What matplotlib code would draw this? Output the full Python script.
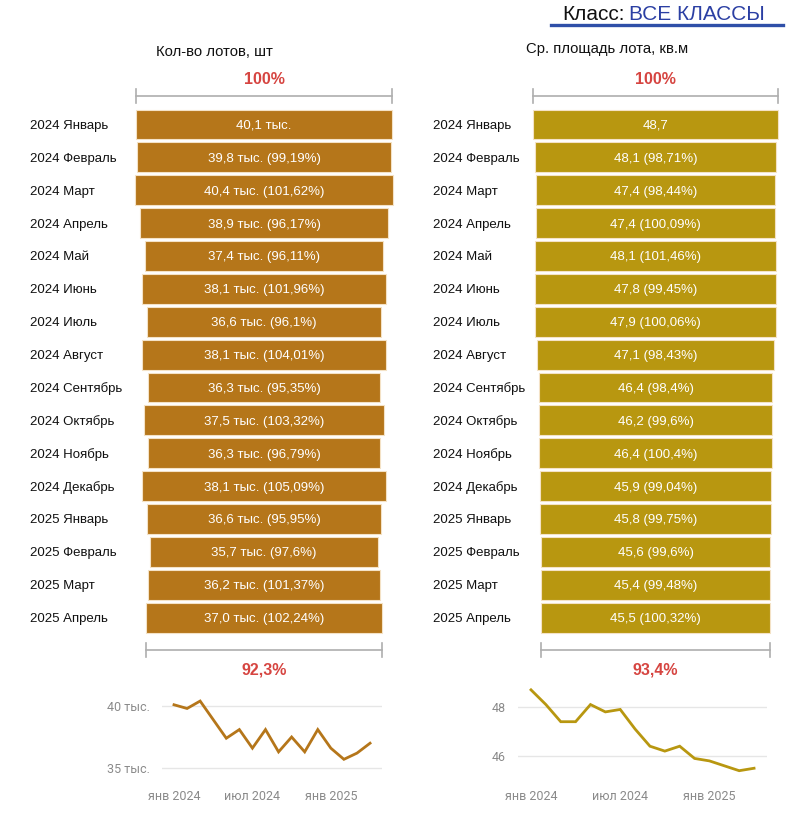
import matplotlib
matplotlib.use("Agg")
import matplotlib.pyplot as plt
from matplotlib.transforms import blended_transform_factory as btf

# ---------------- data ----------------
months = ["2024 Январь", "2024 Февраль", "2024 Март", "2024 Апрель", "2024 Май",
          "2024 Июнь", "2024 Июль", "2024 Август", "2024 Сентябрь", "2024 Октябрь",
          "2024 Ноябрь", "2024 Декабрь", "2025 Январь", "2025 Февраль", "2025 Март",
          "2025 Апрель"]
lots = [40.1, 39.8, 40.4, 38.9, 37.4, 38.1, 36.6, 38.1, 36.3, 37.5, 36.3, 38.1,
        36.6, 35.7, 36.2, 37.0]
lots_pct = [None, "99,19", "101,62", "96,17", "96,11", "101,96", "96,1", "104,01",
            "95,35", "103,32", "96,79", "105,09", "95,95", "97,6", "101,37", "102,24"]
area = [48.7, 48.1, 47.4, 47.4, 48.1, 47.8, 47.9, 47.1, 46.4, 46.2, 46.4, 45.9,
        45.8, 45.6, 45.4, 45.5]
area_pct = [None, "98,71", "98,44", "100,09", "101,46", "99,45", "100,06", "98,43",
            "98,4", "99,6", "100,4", "99,04", "99,75", "99,6", "99,48", "100,32"]
xtick_pos = [0, 6, 12]
xtick_labels = ["янв 2024", "июл 2024", "янв 2025"]
lots_yticks = [35, 40]
lots_ytick_labels = ["35 тыс.", "40 тыс."]
area_yticks = [46, 48]
area_ytick_labels = ["46", "48"]

# ---------------- style ----------------
W, H = 800, 821
MAIN = ["Liberation Sans", "DejaVu Sans"]
MINI = ["Roboto", "DejaVu Sans"]
C_LOTS = "#B5761A"
C_AREA = "#B89710"
RED = "#D64541"
GRAY_BR = "#AEAEAE"
TICK_C = "#8A8A8A"

fig = plt.figure(figsize=(W / 100, H / 100), dpi=100)
fig.patch.set_facecolor("white")


def fx(px):
    return px / W


def fy(py):
    return 1 - py / H


ROW0, STEP = 124.5, 32.87
TOP_PX, BOT_PX = 55, 690


def fmt(v):
    return f"{v:.1f}".replace(".", ",")


def bar_panel(cx, ppu, values, pct, color, suffix, label_x):
    half_px = 165
    ax = fig.add_axes([fx(cx - half_px), fy(BOT_PX), 2 * half_px / W, (BOT_PX - TOP_PX) / H])
    L = half_px / ppu
    ax.set_xlim(-L, L)
    ax.set_ylim((BOT_PX - ROW0) / STEP, (TOP_PX - ROW0) / STEP)
    ax.axis("off")
    n = len(values)
    ys = list(range(n))
    ax.barh(ys, values, left=[-v / 2 for v in values], height=0.91, color=color,
            edgecolor="#F4E2C6", linewidth=0.8)
    tr = btf(fig.transFigure, ax.transData)
    for i, (m, v, p) in enumerate(zip(months, values, pct)):
        txt = fmt(v) + suffix + ("" if p is None else f" ({p}%)")
        ax.text(0, i, txt, ha="center", va="center_baseline", color="white",
                fontsize=9.5, family=MAIN)
        ax.text(fx(label_x), i, m, transform=tr, ha="left", va="center_baseline",
                color="#111111", fontsize=9.5, family=MAIN)
    # brackets
    tick = 0.21
    for v, yb in ((values[0], (96 - ROW0) / STEP), (values[-1], (650 - ROW0) / STEP)):
        ax.plot([-v / 2, v / 2], [yb, yb], color=GRAY_BR, lw=1.2, clip_on=False)
        for xe in (-v / 2, v / 2):
            ax.plot([xe, xe], [yb - tick, yb + tick], color=GRAY_BR, lw=1.2, clip_on=False)
    ax.text(0, (78 - ROW0) / STEP, "100%", ha="center", va="center_baseline", color=RED,
            fontsize=11.5, fontweight="bold", family=MAIN, clip_on=False)
    ratio = values[-1] / values[0] * 100
    ax.text(0, (668 - ROW0) / STEP, f"{ratio:.1f}%".replace(".", ","), ha="center",
            va="center_baseline", color=RED, fontsize=11.5, fontweight="bold",
            family=MAIN, clip_on=False)
    return ax


bar_panel(264, 256 / 40.1, lots, lots_pct, C_LOTS, " тыс.", 30)
bar_panel(655.5, 245 / 48.7, area, area_pct, C_AREA, "", 433)

# headings
fig.text(fx(214.5), fy(50), "Кол-во лотов, шт", ha="center", va="center_baseline",
         fontsize=10.7, family=MAIN, color="#111111")
fig.text(fx(607.5), fy(47), "Ср. площадь лота, кв.м", ha="center", va="center_baseline",
         fontsize=10.7, family=MAIN, color="#111111")
fig.text(fx(625), fy(13), "Класс:", ha="right", va="center_baseline", fontsize=15,
         family=MAIN, color="#111111")
fig.text(fx(629), fy(13), "ВСЕ КЛАССЫ", ha="left", va="center_baseline", fontsize=15,
         family=MAIN, color="#2B3FA3")
fig.add_artist(plt.Line2D([fx(551), fx(783)], [fy(25), fy(25)], color="#2F4FA8",
                          lw=2.4, transform=fig.transFigure))


def mini(x0, x1, i0px, dx, v0, vpx0, dv, values, color, yticks, ylabels):
    top, bot = 680, 780
    ax = fig.add_axes([fx(x0), fy(bot), (x1 - x0) / W, (bot - top) / H])
    ax.set_xlim((x0 - i0px) / dx, (x1 - i0px) / dx)
    ax.set_ylim(v0 - (bot - vpx0) / dv, v0 + (vpx0 - top) / dv)
    ax.plot(range(len(values)), values, color=color, lw=2, solid_joinstyle="miter")
    for s in ax.spines.values():
        s.set_visible(False)
    ax.set_yticks(yticks)
    ax.set_yticklabels(ylabels)
    ax.set_xticks(xtick_pos)
    ax.set_xticklabels(xtick_labels)
    ax.tick_params(axis="both", length=0, colors=TICK_C, labelsize=9)
    ax.tick_params(axis="y", pad=9)
    ax.tick_params(axis="x", pad=7)
    for lab in ax.get_xticklabels() + ax.get_yticklabels():
        lab.set_family(MINI)
    ax.yaxis.grid(True, color="#E6E6E6", lw=1)
    ax.set_axisbelow(True)
    return ax


mini(162, 382, 174, 13.07, 40, 706, 12.4, lots, C_LOTS, lots_yticks, lots_ytick_labels)
mini(518, 767, 531, 14.87, 48, 707, 24.5, area, C_AREA, area_yticks, area_ytick_labels)

fig.savefig("out.png", dpi=100, facecolor="white")
